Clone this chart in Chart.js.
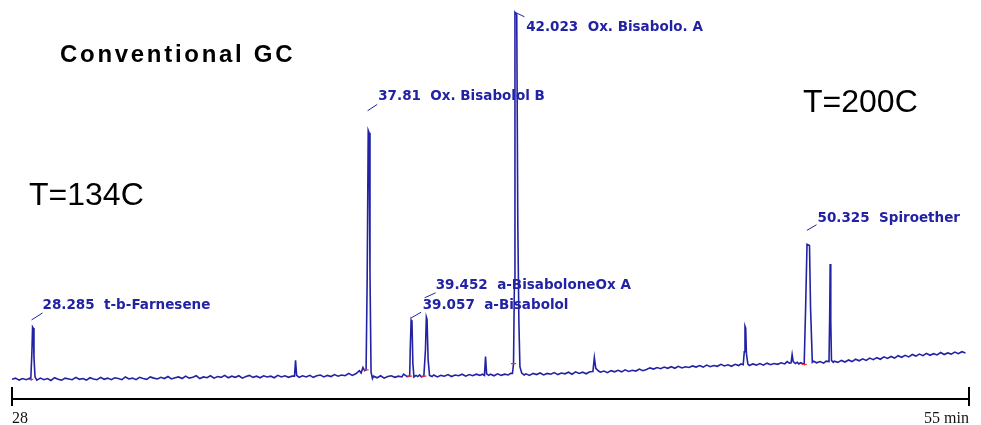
<!DOCTYPE html>
<html><head><meta charset="utf-8">
<script src="https://cdn.jsdelivr.net/npm/chart.js@4.4.1/dist/chart.umd.min.js"></script>
<style>html,body{margin:0;padding:0;background:#fff;overflow:hidden;width:981px;height:425px}</style>
</head><body>
<canvas id="c" width="981" height="439"></canvas>
<script>
// ---- data (retention time in min as drawn on the axis, detector signal in arbitrary units) ----
const chromatogram = [
[28.0,5.0],[28.1,5.3],[28.2,4.8],[28.3,5.2],[28.4,4.9],[28.5,5.3],
[28.53,5.0],[28.56,11.5],[28.58,18.3],[28.60,18.0],[28.62,10.5],[28.65,5.6],
[28.7,4.8],[28.8,5.3],[28.9,4.9],[29.0,5.2],[29.1,4.7],[29.2,5.4],[29.3,5.0],[29.4,4.8],[29.5,5.3],
[29.6,5.1],[29.7,4.9],[29.8,5.5],[29.9,5.0],[30.0,5.2],[30.1,4.8],[30.2,5.4],[30.3,5.1],[30.4,4.9],
[30.5,5.5],[30.6,5.0],[30.7,5.3],[30.8,4.9],[30.9,5.4],[31.0,5.2],[31.1,4.9],[31.2,5.6],[31.3,5.1],
[31.4,5.3],[31.5,4.9],[31.6,5.5],[31.7,5.2],[31.8,5.0],[31.9,5.6],[32.0,5.3],[32.1,5.1],[32.2,5.5],
[32.3,5.2],[32.4,5.7],[32.5,5.1],[32.6,5.4],[32.7,5.6],[32.8,5.2],[32.9,5.8],[33.0,5.3],[33.1,5.5],
[33.2,5.9],[33.3,5.2],[33.4,5.6],[33.5,5.4],[33.6,5.9],[33.7,5.3],[33.8,5.7],[33.9,5.5],[34.0,6.0],
[34.1,5.4],[34.2,5.8],[34.3,5.5],[34.4,5.9],[34.5,5.3],[34.6,5.7],[34.7,6.0],[34.8,5.5],[34.9,5.8],
[35.0,5.4],[35.1,5.9],[35.2,5.6],[35.3,5.8],[35.4,5.4],[35.5,6.0],[35.6,5.6],[35.7,5.9],[35.8,5.5],[35.9,5.8],
[35.97,5.8],[36.00,9.8],[36.03,6.0],
[36.1,5.5],[36.2,5.9],[36.3,5.6],[36.4,6.0],[36.5,5.5],[36.6,5.9],[36.7,6.1],[36.8,5.6],[36.9,6.0],
[37.0,5.7],[37.1,6.2],[37.2,5.8],[37.3,6.1],[37.4,5.9],[37.5,6.5],[37.6,6.0],[37.7,6.4],[37.8,7.2],
[37.85,6.6],[37.9,8.0],[37.95,7.2],
[37.99,7.4],[38.02,30.0],[38.05,68.2],[38.075,67.6],[38.10,32.0],[38.13,6.8],[38.17,5.2],
[38.2,5.8],[38.3,5.4],[38.4,5.9],[38.5,5.3],[38.6,5.7],[38.7,5.9],[38.8,5.5],[38.9,5.8],[39.0,5.6],
[39.05,6.3],[39.1,6.0],[39.15,5.7],
[39.22,5.8],[39.235,12.3],[39.26,20.0],[39.285,19.4],[39.31,9.0],[39.34,5.6],
[39.4,6.0],[39.45,5.7],[39.5,6.1],[39.55,5.6],
[39.62,5.8],[39.665,12.5],[39.69,20.8],[39.71,20.2],[39.74,10.0],[39.78,6.0],
[39.85,5.7],[39.9,6.1],[40.0,5.6],[40.1,6.0],[40.2,5.8],[40.3,6.2],[40.4,5.7],[40.5,6.1],[40.6,5.9],
[40.7,6.3],[40.8,5.8],[40.9,6.2],[41.0,5.9],[41.1,6.3],[41.2,6.0],[41.27,6.3],
[41.33,6.0],[41.36,10.8],[41.39,6.4],
[41.45,6.0],[41.5,6.3],[41.6,5.9],[41.7,6.4],[41.8,6.0],[41.9,6.3],[42.0,6.1],[42.07,6.5],
[42.12,6.5],[42.15,9.0],[42.175,30.0],[42.19,98.2],[42.24,97.6],[42.27,45.0],[42.30,20.0],[42.33,8.2],[42.38,6.6],
[42.45,6.1],[42.5,6.4],[42.6,6.0],[42.7,6.5],[42.8,6.2],[42.9,6.6],[43.0,6.1],[43.1,6.5],[43.2,6.3],
[43.3,6.7],[43.4,6.2],[43.5,6.6],[43.6,6.4],[43.7,6.8],[43.8,6.3],[43.9,6.9],[44.0,6.5],[44.1,6.8],
[44.2,6.4],[44.3,6.9],
[44.39,7.0],[44.43,10.5],[44.47,7.8],
[44.55,7.1],[44.6,6.8],[44.7,7.1],[44.8,6.7],[44.9,7.2],[45.0,6.9],[45.1,7.3],[45.2,6.9],[45.3,7.4],
[45.4,7.0],[45.5,7.3],[45.6,7.1],[45.7,7.6],[45.8,7.2],[45.9,7.5],[46.0,7.9],[46.1,7.6],[46.2,8.0],
[46.3,7.7],[46.4,8.1],[46.5,7.8],[46.6,8.2],[46.7,7.8],[46.8,8.3],[46.9,7.9],[47.0,8.2],[47.1,8.0],
[47.2,8.4],[47.3,8.1],[47.4,8.5],[47.5,8.1],[47.6,8.6],[47.7,8.2],[47.8,8.5],[47.9,8.3],[48.0,8.8],
[48.1,8.4],[48.2,8.7],[48.3,8.3],[48.4,8.8],[48.5,8.5],[48.57,8.9],
[48.63,8.7],[48.66,12.0],[48.68,18.5],[48.70,18.0],[48.72,11.5],[48.76,8.9],
[48.8,8.5],[48.9,8.9],[49.0,8.6],[49.1,9.0],[49.2,8.6],[49.3,9.1],[49.4,8.7],[49.5,9.0],[49.6,8.8],
[49.7,9.2],[49.8,8.9],[49.87,9.5],[49.93,9.1],
[49.98,9.2],[50.01,11.3],[50.04,9.5],
[50.1,9.0],[50.15,9.3],[50.2,8.9],[50.25,9.2],[50.3,9.0],
[50.35,8.8],[50.39,23.0],[50.43,39.3],[50.50,39.0],[50.53,23.0],[50.58,9.3],
[50.62,9.6],[50.7,9.2],[50.8,9.5],[50.9,9.1],[50.97,9.6],
[51.05,9.5],[51.07,21.5],[51.083,34.3],[51.10,20.0],[51.12,9.8],
[51.17,9.3],[51.2,9.6],[51.3,9.3],[51.4,9.8],[51.5,9.4],[51.6,9.9],[51.7,9.5],[51.8,10.1],[51.9,9.7],
[52.0,10.2],[52.1,9.8],[52.2,10.4],[52.3,10.0],[52.4,10.5],[52.5,10.1],[52.6,10.7],[52.7,10.3],
[52.8,10.8],[52.9,10.4],[53.0,11.0],[53.1,10.6],[53.2,11.1],[53.3,10.7],[53.4,11.3],[53.5,10.9],
[53.6,11.4],[53.7,11.0],[53.8,11.6],[53.9,11.1],[54.0,11.5],[54.1,11.2],[54.2,11.8],[54.3,11.3],
[54.4,11.7],[54.5,11.4],[54.6,11.9],[54.7,11.5],[54.8,12.0],[54.9,11.7]
];
const integrationMarks = [[28.53,5.0],[37.99,7.4],[39.22,5.8],[39.62,5.8],[42.15,9.0],[50.35,8.8]];
const axisTicks = [28, 55];
const axisTickLabels = ['28', '55 min'];
const peakLabels = ['28.285  t-b-Farnesene','37.81  Ox. Bisabolol B','39.057  a-Bisabolol',
                    '39.452  a-BisaboloneOx A','42.023  Ox. Bisabolo. A','50.325  Spiroether'];
const peakLabelTimes = [28.59, 38.06, 39.27, 39.70, 42.21, 50.46];
const titleText = 'Conventional GC';
const tempLabels = ['T=134C', 'T=200C'];

// ---- layout / style (pixel offsets of label leaders relative to the peak apex) ----
const leaderLayout = [
  {s:[-1,-7],  e:[10,-14],  t:[10,-17.5]},
  {s:[-0.6,-19.7], e:[9,-26], t:[10,-30.5]},
  {s:[0,-2.3], e:[10,-8], t:[11.6,-11]},
  {s:[-1.7,-19.3], e:[9.3,-24.3], t:[9.3,-28]},
  {s:[0.2,0], e:[9.5,4.5], t:[11.2,19]},
  {s:[-0.1,-13.9], e:[9.5,-19.5], t:[10.5,-22.5]}
];
const BLUE = '#2222a4';

const annotate = {
  id: 'annotate',
  afterDraw(chart) {
    const {ctx, scales: {x, y}} = chart;
    ctx.save();
    // axis end bars
    ctx.strokeStyle = '#000'; ctx.lineWidth = 2;
    axisTicks.forEach(v => {
      const px = Math.round(x.getPixelForValue(v));
      ctx.beginPath(); ctx.moveTo(px, y.bottom - 12); ctx.lineTo(px, y.bottom + 7); ctx.stroke();
    });
    // peak labels
    ctx.font = 'bold 13.5px "DejaVu Sans"';
    ctx.fillStyle = BLUE; ctx.strokeStyle = BLUE; ctx.lineWidth = 1;
    ctx.textBaseline = 'alphabetic'; ctx.textAlign = 'left';
    peakLabels.forEach((txt, i) => {
      let best = null;
      chromatogram.forEach(p => {
        if (Math.abs(p[0] - peakLabelTimes[i]) < 0.06 && (!best || p[1] > best[1])) best = p;
      });
      const px = x.getPixelForValue(best[0]), py = y.getPixelForValue(best[1]);
      const L = leaderLayout[i];
      ctx.beginPath(); ctx.moveTo(px + L.s[0], py + L.s[1]); ctx.lineTo(px + L.e[0], py + L.e[1]); ctx.stroke();
      ctx.fillText(txt, px + L.t[0], py + L.t[1]);
    });
    // titles
    ctx.fillStyle = '#000';
    ctx.font = 'bold 24px "Liberation Sans", Arial, sans-serif';
    ctx.letterSpacing = '2.7px';
    ctx.fillText(titleText, 60, 61.5);
    ctx.letterSpacing = '0px';
    ctx.font = '32px "Liberation Sans", Arial, sans-serif';
    ctx.fillText(tempLabels[0], 29, 205);
    ctx.fillText(tempLabels[1], 803, 111.5);
    ctx.restore();
  }
};

new Chart(document.getElementById('c'), {
  type: 'line',
  data: {
    datasets: [
      {
        data: chromatogram.map(p => ({x: p[0], y: p[1]})),
        borderColor: BLUE, borderWidth: 1.6, pointRadius: 0, tension: 0, fill: false, order: 2
      },
      {
        data: integrationMarks.map(p => ({x: p[0], y: p[1]})),
        showLine: false, pointStyle: 'line', pointRadius: 2.5, pointBorderWidth: 1.2,
        pointBorderColor: '#ff2a2a', borderColor: '#ff2a2a', order: 1
      }
    ]
  },
  options: {
    responsive: false, animation: false,
    layout: {padding: {left: 12, right: 11, top: 0, bottom: 0}},
    plugins: {legend: {display: false}, tooltip: {enabled: false}, title: {display: false}},
    scales: {
      x: {
        type: 'linear', min: 28, max: 55,
        afterBuildTicks: s => { s.ticks = axisTicks.map(v => ({value: v})); },
        ticks: {
          align: 'inner', padding: 12, color: '#111', maxRotation: 0,
          font: {family: '"Liberation Serif", "Times New Roman", serif', size: 16, lineHeight: 1},
          callback: v => axisTickLabels[axisTicks.indexOf(v)]
        },
        grid: {display: false, drawTicks: false, tickLength: 0},
        border: {display: true, color: '#000', width: 2}
      },
      y: {display: false, min: 0, max: 100}
    }
  },
  plugins: [annotate]
});
</script>
</body></html>
